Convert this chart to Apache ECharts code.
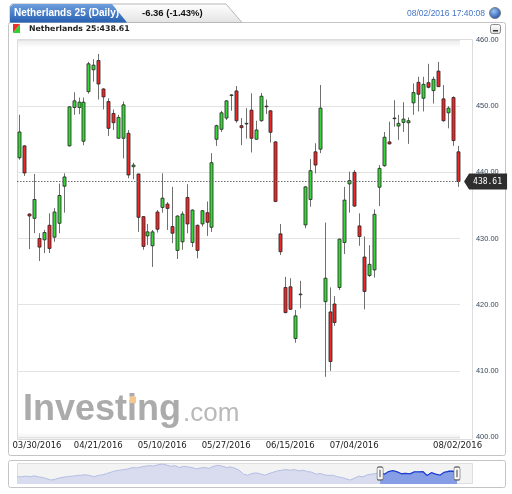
<!DOCTYPE html>
<html><head><meta charset="utf-8">
<script src="https://cdn.jsdelivr.net/npm/echarts@6/dist/echarts.min.js"></script>
<style>html,body{margin:0;padding:0;background:#fff}#c{width:512px;height:494px}</style>
</head><body><div id="c"></div><script>
// ---- data ----
const dates = [
'03/30/2016','03/31/2016',
'04/01/2016','04/04/2016','04/05/2016','04/06/2016','04/07/2016','04/08/2016',
'04/11/2016','04/12/2016','04/13/2016','04/14/2016','04/15/2016',
'04/18/2016','04/19/2016','04/20/2016','04/21/2016','04/22/2016',
'04/25/2016','04/26/2016','04/27/2016','04/28/2016','04/29/2016',
'05/02/2016','05/03/2016','05/04/2016','05/05/2016','05/06/2016',
'05/09/2016','05/10/2016','05/11/2016','05/12/2016','05/13/2016',
'05/16/2016','05/17/2016','05/18/2016','05/19/2016','05/20/2016',
'05/23/2016','05/24/2016','05/25/2016','05/26/2016','05/27/2016',
'05/30/2016','05/31/2016',
'06/01/2016','06/02/2016','06/03/2016',
'06/06/2016','06/07/2016','06/08/2016','06/09/2016','06/10/2016',
'06/13/2016','06/14/2016','06/15/2016','06/16/2016','06/17/2016',
'06/20/2016','06/21/2016','06/22/2016','06/23/2016','06/24/2016',
'06/27/2016','06/28/2016','06/29/2016','06/30/2016',
'07/01/2016','07/04/2016','07/05/2016','07/06/2016','07/07/2016','07/08/2016',
'07/11/2016','07/12/2016','07/13/2016','07/14/2016','07/15/2016',
'07/18/2016','07/19/2016','07/20/2016','07/21/2016','07/22/2016',
'07/25/2016','07/26/2016','07/27/2016','07/28/2016','07/29/2016',
'08/01/2016','08/02/2016'];
const opens = [442.2,444.0,433.7,433.05,430.0,429.8,432.0,430.2,432.3,437.9,
444.0,449.8,449.8,444.7,452.2,455.5,456.9,452.6,450.7,448.9,
445.15,445.15,445.9,440.85,439.75,433.3,430.4,428.9,434.0,434.7,
435.2,431.8,428.2,429.5,436.2,429.4,432.0,432.2,433.9,431.7,
445.0,446.5,448.2,451.7,452.3,447.05,447.4,449.4,445.0,447.8,
450.0,449.3,444.6,430.7,422.6,422.7,414.9,421.5,432.05,435.9,
443.1,443.5,420.45,418.9,420.1,422.6,429.4,438.25,440.0,431.9,
427.2,424.4,425.25,437.75,441.0,444.6,448.2,447.0,447.55,447.5,
450.5,453.6,451.2,453.55,452.35,455.3,451.1,449.0,451.3,443.1];
const closes = [446.1,439.9,433.4,435.9,428.7,430.9,428.5,434.0,436.5,439.3,
449.9,450.8,450.6,450.6,456.4,456.2,453.35,451.4,446.65,447.5,
448.3,450.2,439.6,441.1,433.2,428.8,431.0,431.0,431.4,436.1,
434.55,430.8,433.4,433.7,432.2,434.3,428.2,434.2,432.45,441.45,
447.05,449.0,450.8,451.7,447.8,446.75,447.4,445.15,446.4,451.5,
450.0,446.05,435.6,428.0,418.8,419.3,418.3,421.6,437.8,440.25,
441.1,449.7,424.0,411.4,417.3,429.9,435.8,438.75,434.9,430.3,
422.0,426.1,433.65,440.6,445.3,444.3,448.2,447.4,448.05,447.8,
452.05,451.8,453.3,452.85,454.05,452.95,447.8,449.7,444.8,438.61];
const lows = [441.9,439.45,428.4,430.8,426.6,427.8,427.8,429.5,430.8,433.9,
443.9,448.7,448.8,444.1,451.9,453.7,451.0,449.5,445.5,446.4,
445.1,442.1,439.1,438.95,431.0,428.3,429.0,425.7,430.9,433.9,
431.3,429.3,426.9,428.3,430.8,428.7,427.0,431.8,430.4,431.0,
444.0,446.1,447.9,449.3,447.5,444.1,445.1,443.0,445.0,447.65,
448.8,444.5,435.5,427.5,418.7,419.2,414.25,419.45,431.55,434.8,
439.85,442.9,409.1,410.0,416.8,422.2,427.65,433.9,434.8,428.9,
419.3,424.2,424.1,434.9,440.85,444.2,446.9,444.9,446.1,444.3,
448.7,449.2,449.2,452.7,450.4,452.9,447.65,446.65,444.0,437.8];
const highs = [448.7,444.1,433.8,439.75,430.8,431.3,433.8,434.6,438.3,439.85,
450.0,452.1,451.3,451.3,456.7,457.1,457.9,452.7,451.2,449.5,
448.7,450.7,446.4,441.45,439.8,433.4,432.2,431.3,434.3,439.85,
435.5,437.8,433.5,434.1,438.2,434.4,432.1,434.3,435.6,442.9,
447.2,449.3,450.9,451.8,453.05,448.2,449.7,451.95,447.8,452.0,
451.0,449.4,444.7,432.2,424.2,424.0,419.2,423.6,437.9,442.0,
444.4,453.2,432.4,422.6,421.3,430.0,437.8,440.1,440.35,433.8,
430.3,429.0,434.4,441.1,446.1,447.65,450.9,448.7,450.6,448.3,
453.45,454.45,454.45,456.4,454.45,456.7,453.2,450.0,451.5,444.0];
const tickLabels = ['03/30/2016','04/21/2016','05/10/2016','05/27/2016','06/15/2016','07/04/2016','08/02/2016'];
const yMin = 400, yMax = 460, yStep = 10;
// navigator (overview) weekly values
const navValues = [410,410,415,410,417,410,405,395,385,392,
402,407,412,415,420,422,425,420,410,420,
425,435,445,455,460,465,470,480,477,485,
490,495,492,502,507,500,490,495,480,490,
485,480,470,477,480,475,490,497,492,480,
485,475,460,430,422,435,440,432,422,435,
445,455,460,465,460,465,455,460,450,445,
430,435,425,420,422,410,405,395,385,400,
415,410,425,430,435,446.1,428.7,449.9,456.2,447.5,
433.2,436.1,432.2,447.05,447.8,450.0,419.3,441.1,429.9,422.0,
444.3,452.05,452.95,438.61];
const navSelStart = 85;
const navMin = 355, navMax = 515;

const title = 'Netherlands 25 (Daily)';
const change = '-6.36 (-1.43%)';
const stamp = '08/02/2016 17:40:08';
const last = closes[closes.length - 1];
const subTitle = 'Netherlands 25:' + last.toFixed(2);

// ---- chart ----
const UP = '#36d636', DOWN = '#ec2727';
const chart = echarts.init(document.getElementById('c'), null, {renderer: 'canvas'});
const ohlc = opens.map((o, i) => [i, o, closes[i], lows[i], highs[i]]);
const navSel = navValues.map((v, i) => i >= navSelStart ? v : null);
const lg = (a, b) => new echarts.graphic.LinearGradient(0, 0, 0, 1, [{offset: 0, color: a}, {offset: 1, color: b}]);

const option = {
  animation: false,
  grid: [
    {left: 17, right: 52, top: 40, bottom: 57},
    {left: 17, right: 55, top: 463, height: 21}
  ],
  xAxis: [
    {type: 'category', gridIndex: 0, data: dates, boundaryGap: true,
     axisLine: {show: false}, axisTick: {show: false},
     axisLabel: {interval: (i, v) => tickLabels.includes(v), margin: 4, alignMinLabel: 'left',
       formatter: (v, i) => i === 0 ? '{f|' + v + '}' : v,
       rich: {f: {padding: [0, 0, 0, -7], fontFamily: 'DejaVu Sans', fontSize: 8.5, color: '#222'}},
       fontFamily: 'DejaVu Sans', fontSize: 8.5, color: '#222'},
     splitLine: {show: false}},
    {type: 'category', gridIndex: 1, data: navValues.map((v, i) => i), boundaryGap: false, show: false}
  ],
  yAxis: [
    {type: 'value', gridIndex: 0, position: 'right', min: yMin, max: yMax, interval: yStep,
     axisLine: {show: false}, axisTick: {show: false},
     axisLabel: {margin: 16, formatter: v => v.toFixed(2), fontFamily: 'Liberation Sans', fontSize: 7.4, color: '#34465a'},
     splitLine: {lineStyle: {color: '#e3e3e3', width: 1}}},
    {type: 'value', gridIndex: 1, min: navMin, max: navMax, show: false}
  ],
  series: [
    {type: 'custom', xAxisIndex: 0, yAxisIndex: 0, data: ohlc, encode: {x: 0, y: [1, 2, 3, 4]},
     renderItem: function (params, api) {
       const i = api.value(0), o = api.value(1), c = api.value(2), l = api.value(3), h = api.value(4);
       const pO = api.coord([i, o]), pC = api.coord([i, c]), pL = api.coord([i, l]), pH = api.coord([i, h]);
       const w = api.size([1, 0])[0] * 0.62;
       const x = Math.round(pO[0]) + 0.5;
       const top = Math.min(pO[1], pC[1]), bot = Math.max(pO[1], pC[1]);
       return {type: 'group', children: [
         {type: 'line', shape: {x1: x, y1: pH[1], x2: x, y2: pL[1]}, style: {stroke: '#707070', lineWidth: 1}},
         {type: 'rect', shape: {x: x - w / 2, y: top, width: w, height: Math.max(bot - top, 0.6)},
          style: {fill: c >= o ? UP : DOWN, stroke: '#262626', lineWidth: 0.8}}
       ]};
     }
    },
    {type: 'line', xAxisIndex: 0, yAxisIndex: 0, data: closes, symbol: 'none', silent: true,
     lineStyle: {opacity: 0}, z: 5,
     markLine: {silent: true, symbol: 'none', label: {show: false},
       lineStyle: {color: '#6a6a6a', type: [1.5, 1.5], width: 1}, data: [{yAxis: last}]},
     markPoint: {silent: true, data: [{coord: [closes.length - 1, last]}],
       symbol: 'path://M0,8 L5,0 L43,0 L43,16 L5,16 Z', symbolSize: [43, 16], symbolOffset: [28, 0],
       itemStyle: {color: '#2e2e2e'},
       label: {show: true, formatter: last.toFixed(2), color: '#fff', fontFamily: 'DejaVu Sans Mono', fontSize: 8, offset: [2, 0]}}
    },
    {type: 'line', xAxisIndex: 1, yAxisIndex: 1, data: navValues, symbol: 'none', silent: true,
     lineStyle: {color: '#b4bee4', width: 1}, areaStyle: {color: '#d8dcee', opacity: 1, origin: 'start'}},
    {type: 'line', xAxisIndex: 1, yAxisIndex: 1, data: navSel, symbol: 'none', silent: true,
     lineStyle: {color: '#1d3fd2', width: 1.3}, areaStyle: {color: '#859ee6', opacity: 1, origin: 'start'},
     markPoint: {silent: true, symbol: 'path://M2,0 H6 A2,2 0 0 1 8,2 V12 A2,2 0 0 1 6,14 H2 A2,2 0 0 1 0,12 V2 A2,2 0 0 1 2,0 Z M3.2,3 V11 M4.8,3 V11',
       symbolSize: [6, 13], itemStyle: {color: '#fafafa', borderColor: '#707070', borderWidth: 1},
       label: {show: false},
       data: [{coord: [navSelStart, (navMin + navMax) / 2]}, {coord: [navValues.length - 1, (navMin + navMax) / 2]}]}
    }
  ],
  graphic: [
    // frames
    {type: 'rect', z: -10, shape: {x: 8.5, y: 22.5, width: 497, height: 433, r: 2}, style: {fill: '#fff', stroke: '#c4c4c4'}},
    {type: 'rect', z: -9, shape: {x: 17.5, y: 39.5, width: 455, height: 400}, style: {fill: '#fff', stroke: '#dcdcdc'}},
    {type: 'rect', z: -8, shape: {x: 18, y: 40, width: 442, height: 8}, style: {fill: lg('#ebebeb', '#ffffff')}},
    {type: 'rect', z: -8, shape: {x: 18, y: 432, width: 442, height: 7}, style: {fill: lg('#ffffff', '#efefef')}},
    {type: 'rect', z: -10, shape: {x: 8.5, y: 460.5, width: 497, height: 27, r: 2}, style: {fill: '#fff', stroke: '#c4c4c4'}},
    {type: 'rect', z: -9, shape: {x: 17.5, y: 463.5, width: 455, height: 20}, style: {fill: '#f3f3f3', stroke: '#dedede'}},
    // header tabs
    {type: 'polygon', z: 5, shape: {points: [[10, 22.5], [10, 6], [12, 4], [226, 4], [242, 22.5]]}, style: {fill: lg('#ffffff', '#e3e3e3'), stroke: '#b7b7b7'}},
    {type: 'polygon', z: 6, shape: {points: [[10, 22.5], [10, 7], [13, 4], [112, 4], [127, 22.5]]}, style: {fill: lg('#6f9edc', '#2660b2')}},
    {type: 'text', z: 7, style: {text: title, x: 14, y: 13.5, verticalAlign: 'middle', fill: '#fff', font: 'bold 10px "Liberation Sans"'}},
    {type: 'text', z: 7, style: {text: change, x: 142, y: 13.5, verticalAlign: 'middle', fill: '#111', font: 'bold 9.5px "Liberation Sans"'}},
    {type: 'text', z: 7, style: {text: stamp, x: 485, y: 13.5, align: 'right', verticalAlign: 'middle', fill: '#4474c4', font: '8.5px "Liberation Sans"'}},
    {type: 'circle', z: 7, shape: {cx: 495, cy: 13, r: 5.5}, style: {fill: new echarts.graphic.RadialGradient(0.4, 0.35, 0.7, [{offset: 0, color: '#9cc2f2'}, {offset: 1, color: '#1a4fa8'}]), stroke: '#6c6c6c', lineWidth: 0.8}},
    // sub header
    {type: 'polygon', z: 7, shape: {points: [[13, 24], [20, 24], [13, 33]]}, style: {fill: '#f03030'}},
    {type: 'polygon', z: 7, shape: {points: [[20, 24], [20, 33], [13, 33]]}, style: {fill: '#30d030'}},
    {type: 'text', z: 7, style: {text: subTitle, x: 29, y: 29, verticalAlign: 'middle', fill: '#1e1e1e', font: 'bold 7.8px "DejaVu Sans"'}},
    {type: 'rect', z: 7, shape: {x: 490.5, y: 24.5, width: 10, height: 9, r: 2}, style: {fill: lg('#ffffff', '#dddddd'), stroke: '#8a8a8a'}},
    {type: 'rect', z: 8, shape: {x: 493, y: 30, width: 5, height: 1.5}, style: {fill: '#333'}},
    // watermark
    {type: 'text', z: 1, style: {text: 'Investing', x: 23, y: 410.5, verticalAlign: 'middle', fill: '#ababab', font: 'bold 36px "Liberation Sans"'}},
    {type: 'rect', z: 1, shape: {x: 129.5, y: 396.5, width: 6.5, height: 6.5}, style: {fill: '#f6c88e'}},
    {type: 'text', z: 1, style: {text: '.com', x: 183, y: 414, verticalAlign: 'middle', fill: '#b9b9b9', font: '26px "Liberation Sans"'}}
  ]
};
chart.setOption(option);
</script></body></html>
